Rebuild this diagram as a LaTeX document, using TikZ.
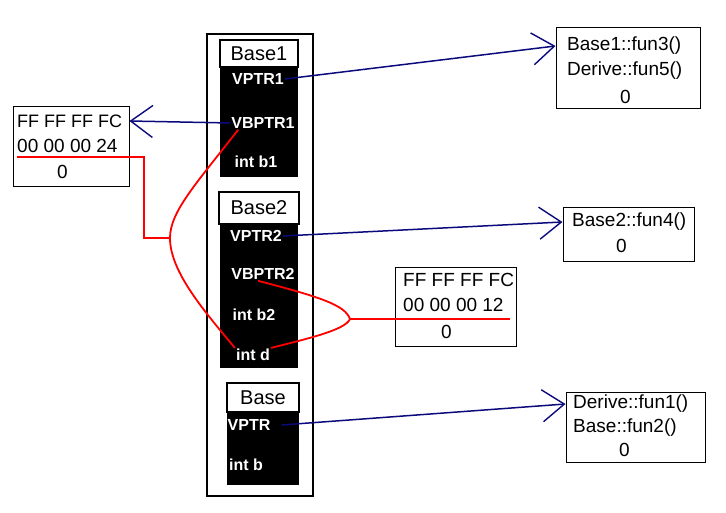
\documentclass[tikz,border=0pt]{standalone}
\usepackage{fontspec}
\setmainfont{Liberation Sans}
\usetikzlibrary{arrows.meta}
\definecolor{ptrblue}{RGB}{10,10,125}

\begin{document}
\begin{tikzpicture}[x=1pt,y=-1pt,
    label/.style={draw,line width=1.2pt,fill=white,inner sep=0pt,font=\fontsize{20}{22}\selectfont},
    mem/.style={fill=black,inner sep=0pt},
    field/.style={text=white,inner sep=1pt,font=\bfseries\fontsize{16}{18}\selectfont},
    tab/.style={draw,line width=1pt,inner sep=0pt},
    entry/.style={anchor=west,inner sep=0pt,font=\fontsize{19}{21}\selectfont},
    ptr/.style={ptrblue,line width=1.5pt,-{Straight Barb[length=22pt,width=32pt,line width=1.4pt]}},
    off/.style={red,line width=1.8pt}]
    \useasboundingbox (0,0) rectangle (726,513);
    % object frame
    \node [draw,line width=1.8pt,inner sep=0pt,minimum width=106pt,minimum height=462pt] (obj) at (260,265) {};
    % Base1 part
    \node [mem,minimum width=78pt,minimum height=110pt] (mem1) at (259,122) {};
    \node [label,minimum width=78pt,minimum height=27pt] (base1) at (259,53.5) {Base1};
    \node [field] (vptr1) at (258,79) {VPTR1};
    \node [field] (vbptr1) at (263,123) {VBPTR1};
    \node [field] (intb1) at (256,162) {int b1};
    % Base2 part
    \node [mem,minimum width=78pt,minimum height=144pt] (mem2) at (259,296) {};
    \node [label,minimum width=80pt,minimum height=32pt] (base2) at (259,208) {Base2};
    \node [field] (vptr2) at (256,236) {VPTR2};
    \node [field] (vbptr2) at (263,274) {VBPTR2};
    \node [field] (intb2) at (254,315) {int b2};
    \node [field] (intd) at (253,355) {int d};
    % Base part
    \node [mem,minimum width=72pt,minimum height=73pt] (mem3) at (263,448.5) {};
    \node [label,minimum width=72pt,minimum height=29pt] (base) at (263,397.5) {Base};
    \node [field] (vptr) at (249,425) {VPTR};
    \node [field] (intb) at (246,465) {int b};
    % virtual base tables
    \node [tab,minimum width=116pt,minimum height=80pt] (vbt1) at (71,147) {};
    \node [entry,font=\fontsize{18}{20}\selectfont] (vbt1a) at (17,121) {FF FF FF FC};
    \node [entry] (vbt1b) at (17,146) {00 00 00 24};
    \node [entry] (vbt1c) at (57,172) {0};
    \node [tab,minimum width=121pt,minimum height=78pt] (vbt2) at (455.5,307) {};
    \node [entry] (vbt2a) at (403,280) {FF FF FF FC};
    \node [entry] (vbt2b) at (403,305) {00 00 00 12};
    \node [entry] (vbt2c) at (441,332) {0};
    % virtual function tables
    \node [tab,minimum width=144pt,minimum height=81pt] (vft1) at (628,68.5) {};
    \node [entry] (vft1a) at (567,46) {Base1::fun3()};
    \node [entry] (vft1b) at (567,71) {Derive::fun5()};
    \node [entry] (vft1c) at (620,97) {0};
    \node [tab,minimum width=131pt,minimum height=54pt] (vft2) at (628.5,235) {};
    \node [entry] (vft2a) at (572,222) {Base2::fun4()};
    \node [entry] (vft2c) at (616,246) {0};
    \node [tab,minimum width=139pt,minimum height=70pt] (vft3) at (635.5,427) {};
    \node [entry] (vft3a) at (573,404) {Derive::fun1()};
    \node [entry] (vft3b) at (573,428) {Base::fun2()};
    \node [entry] (vft3c) at (619,450) {0};
    % pointers
    \draw [ptr] (vptr1.east) -- (vft1.west |- vft1a);
    \draw [ptr] (vptr2.east) -- (vft2.west |- vft2a);
    \draw [ptr] (vptr.east) ++(10,0) -- (vft3.west |- vft3a);
    \draw [ptr] (vbptr1.west) -- (vbt1.east |- vbt1a);
    % offsets
    \coordinate (bend1) at (170,238);
    \coordinate (bend2) at (350,319);
    \coordinate (end2) at ([xshift=-7pt]vbt2.east |- bend2);
    \draw [off] (vbt1b.west |- 0,157) -- (144,157) -- (144,238) -- (bend1);
    \draw [off] (vbptr1.south west) ++(8,0) .. controls (195,185) and (170,212) .. (bend1)
        .. controls (170,272) and (205,312) .. (intd.north west);
    \draw [off] (vbptr2.south) ++(-5,0) .. controls (320,297) and (345,305) .. (bend2)
        .. controls (345,330) and (310,338) .. (intd.north east);
    \draw [off] (bend2) -- (end2);
\end{tikzpicture}
\end{document}
